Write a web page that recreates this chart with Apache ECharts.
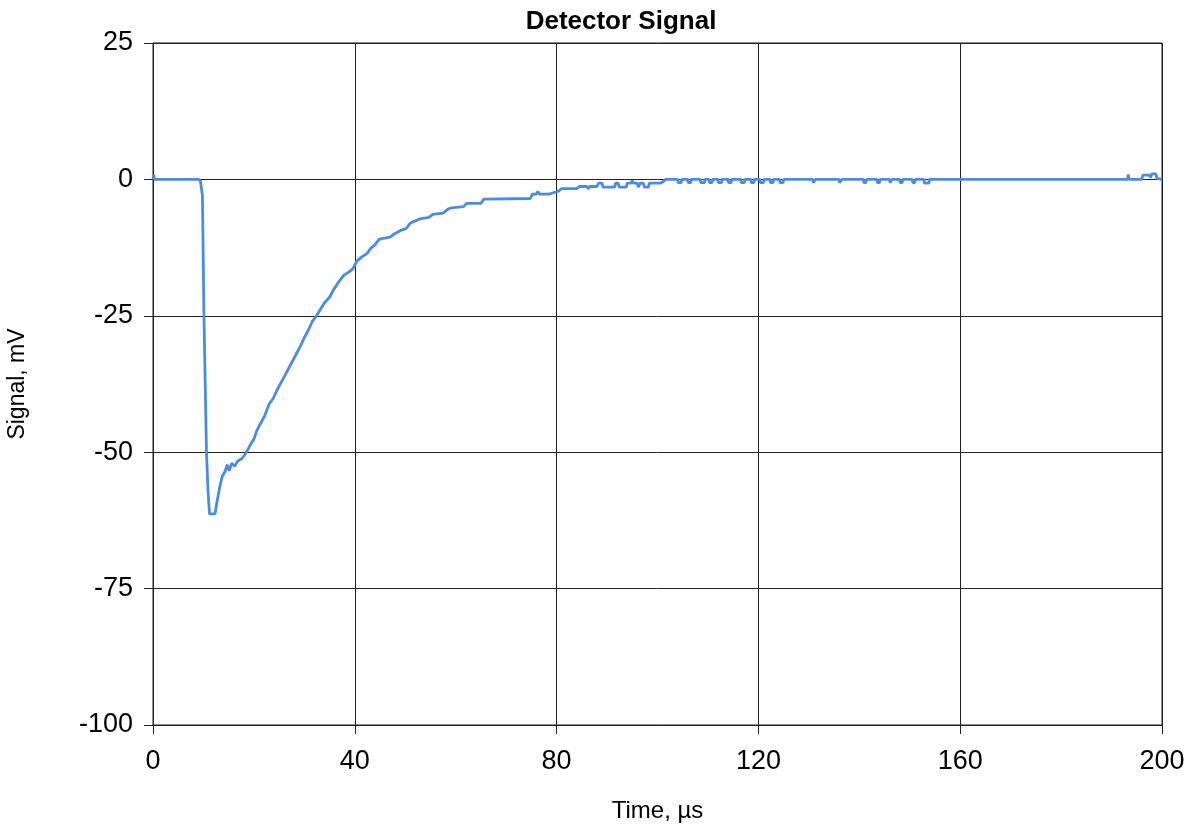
<!DOCTYPE html>
<html><head><meta charset="utf-8">
<script src="https://cdn.jsdelivr.net/npm/echarts@6/dist/echarts.min.js"></script>
<style>html,body{margin:0;padding:0;background:#fff}#c{width:1194px;height:830px}</style>
</head><body><div id="c"></div>
<script>
const chartTitle = "Detector Signal";
const xAxisName = "Time, µs";
const yAxisName = "Signal, mV";
const xTicks = [0, 40, 80, 120, 160, 200];
const yTicks = [-100, -75, -50, -25, 0, 25];
const timeUs = [
 0,0.15,0.3,9.0,9.4,9.8,10.1,10.6,10.9,11.2,12.3,12.7,13.2,13.7,14.3,14.7,15.1,15.6,16.2,16.8,
 17.6,18.4,19.2,20,20.6,21.4,22.2,23,23.8,24.6,25.4,26.1,26.8,27.6,28.4,29.2,30,30.8,31.6,32.4,
 33.2,34,35,35.8,36.8,37.8,38.8,39.6,40.4,41.4,42.4,43.2,44,44.8,45.6,47,47.8,49,50.2,51,
 52,53,54.6,55.5,57.5,58.4,59.2,61.5,62.2,65,65.6,74.8,75.2,76,76.3,76.6,78.5,79.5,80.3,81,
 84,84.5,86,86.3,86.6,88,88.3,89,89.2,91.5,91.7,92.2,92.4,93.8,94,94.8,95,95.3,96,96.2,
 96.6,97.2,97.4,98.2,98.4,100.5,101,101.6,
 104,104.1,104.7,104.8,106,106.1,106.6,106.7,108.5,108.6,109.3,109.4,110.2,110.3,110.8,110.9,
 112,112.1,112.7,112.8,114,114.1,114.6,114.7,116.5,116.6,117.2,117.3,118.5,118.6,119.1,119.2,
 120.3,120.4,121,121.1,122.3,122.4,122.9,123,124.2,124.3,124.9,125,
 130.8,130.9,131.2,131.3,136,136.1,136.4,136.5,140.8,140.9,141.3,141.4,143.5,143.6,144,144.1,
 146,146.1,146.4,146.5,148,148.1,148.5,148.6,150.5,150.6,151,151.1,152.8,152.9,153.8,153.9,
 193.2,193.3,193.5,196,196.2,197.6,197.7,198,198.8,199,200
];
const signalMv = [
 0,0.9,0,0,-0.3,-3,-25,-50,-57,-61.3,-61.3,-59,-56.5,-54.5,-53.5,-52.3,-53.4,-52,-52.6,-51.6,
 -51.2,-50.2,-48.8,-47.6,-46,-44.6,-43.2,-41.2,-40.2,-38.6,-37.2,-36,-34.8,-33.4,-32,-30.6,-29,-27.6,-26,-25,
 -23.8,-22.6,-21.6,-20.2,-18.8,-17.6,-17,-16.4,-15,-14.2,-13.6,-12.6,-12,-11,-10.8,-10.6,-10,-9.4,-9,-8,
 -7.6,-7.2,-7,-6.4,-6.2,-5.5,-5.2,-5,-4.4,-4.4,-3.6,-3.5,-2.7,-2.7,-2.2,-2.7,-2.7,-2.4,-2.2,-1.7,
 -1.7,-1.3,-1.3,-1.7,-1.3,-1.3,-0.7,-0.7,-1.4,-1.4,-0.7,-0.7,-1.4,-1.4,-0.7,-0.7,-0.2,-0.7,-0.7,-1.4,
 -0.7,-0.7,-1.4,-1.4,-0.7,-0.7,-0.5,0,
 0,-0.6,-0.6,0,0,-0.6,-0.6,0,0,-0.6,-0.6,0,0,-0.6,-0.6,0,
 0,-0.6,-0.6,0,0,-0.6,-0.6,0,0,-0.6,-0.6,0,0,-0.6,-0.6,0,
 0,-0.6,-0.6,0,0,-0.6,-0.6,0,0,-0.6,-0.6,0,
 0,-0.6,-0.6,0,0,-0.6,-0.6,0,0,-0.6,-0.6,0,0,-0.6,-0.6,0,
 0,-0.6,-0.6,0,0,-0.6,-0.6,0,0,-0.6,-0.6,0,0,-0.7,-0.7,0,
 0,0.9,0,0,0.8,0.8,0.3,1,1,0.2,0
];
const seriesData = timeUs.map((t, i) => [t, signalMv[i]]);
const font = "'Liberation Sans', Arial, sans-serif";
const chart = echarts.init(document.getElementById('c'), null, {renderer: 'canvas'});
chart.setOption({
  animation: false,
  backgroundColor: '#fff',
  title: {
    text: chartTitle, left: 616, top: 4, textAlign: 'center',
    textStyle: {fontFamily: font, fontSize: 26, fontWeight: 'bold', color: '#000'}
  },
  grid: {left: 153, right: 32, top: 43, bottom: 105, containLabel: false,
    outerBoundsMode: 'none',
    show: true, borderColor: '#222', borderWidth: 1},
  xAxis: {
    type: 'value', min: xTicks[0], max: xTicks[xTicks.length - 1], interval: 40,
    name: xAxisName, nameLocation: 'middle', nameGap: 74,
    nameTextStyle: {fontFamily: font, fontSize: 24, color: '#000'},
    axisLine: {show: true, onZero: false, lineStyle: {color: '#222', width: 1}},
    axisTick: {show: true, length: 9, lineStyle: {color: '#222'}},
    axisLabel: {fontFamily: font, fontSize: 27, color: '#000', margin: 23},
    splitLine: {show: true, lineStyle: {color: '#222', width: 1}}
  },
  yAxis: {
    type: 'value', min: yTicks[0], max: yTicks[yTicks.length - 1], interval: 25,
    name: yAxisName, nameLocation: 'middle', nameGap: 124, nameRotate: 90,
    nameTextStyle: {fontFamily: font, fontSize: 23, color: '#000'},
    axisLine: {show: true, onZero: false, lineStyle: {color: '#222', width: 1}},
    axisTick: {show: true, length: 9, lineStyle: {color: '#222'}},
    axisLabel: {fontFamily: font, fontSize: 27, color: '#000', margin: 20},
    splitLine: {show: true, lineStyle: {color: '#222', width: 1}}
  },
  series: [{
    type: 'line', data: seriesData, showSymbol: false, symbol: 'none',
    lineStyle: {color: '#4A8BE3', width: 2.8}, z: 3
  }]
});
</script></body></html>
